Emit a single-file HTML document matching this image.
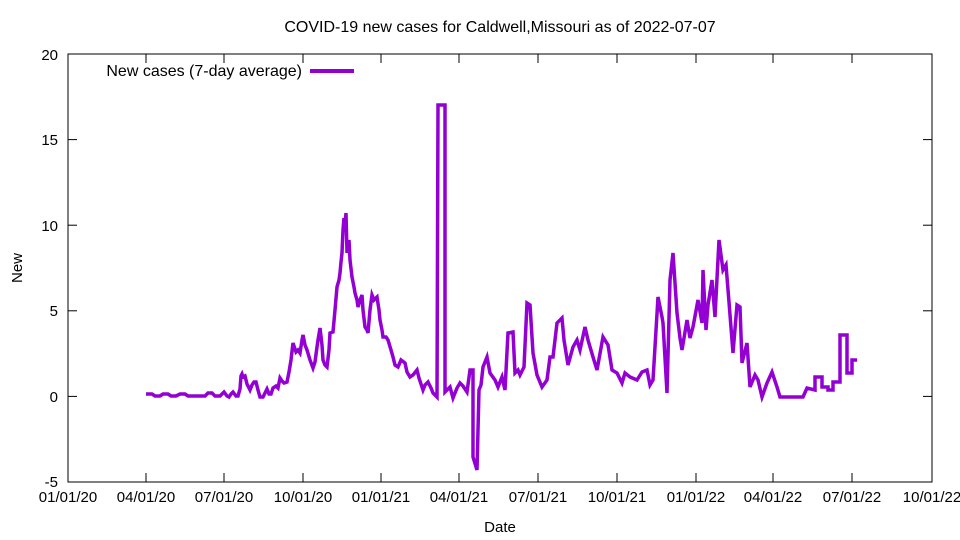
<!DOCTYPE html>
<html><head><meta charset="utf-8"><style>body{margin:0;background:#fff}svg{display:block}text{font-family:"Liberation Sans",sans-serif;font-size:16px;fill:#000}.t{font-size:15px}</style></head><body>
<svg width="960" height="540" xmlns="http://www.w3.org/2000/svg">
<rect x="68" y="54" width="864" height="428" fill="none" stroke="#000" stroke-width="1"/>
<g stroke="#000" stroke-width="1">
<line x1="68" y1="54" x2="77" y2="54"/><line x1="932" y1="54" x2="923" y2="54"/>
<line x1="68" y1="139.6" x2="77" y2="139.6"/><line x1="932" y1="139.6" x2="923" y2="139.6"/>
<line x1="68" y1="225.2" x2="77" y2="225.2"/><line x1="932" y1="225.2" x2="923" y2="225.2"/>
<line x1="68" y1="310.8" x2="77" y2="310.8"/><line x1="932" y1="310.8" x2="923" y2="310.8"/>
<line x1="68" y1="396.4" x2="77" y2="396.4"/><line x1="932" y1="396.4" x2="923" y2="396.4"/>
<line x1="146" y1="482" x2="146" y2="473"/><line x1="224" y1="482" x2="224" y2="473"/><line x1="303" y1="482" x2="303" y2="473"/><line x1="381" y1="482" x2="381" y2="473"/><line x1="459" y1="482" x2="459" y2="473"/><line x1="538" y1="482" x2="538" y2="473"/><line x1="617" y1="482" x2="617" y2="473"/><line x1="696" y1="482" x2="696" y2="473"/><line x1="773" y1="482" x2="773" y2="473"/><line x1="852" y1="482" x2="852" y2="473"/>
<line x1="146" y1="54" x2="146" y2="63"/><line x1="224" y1="54" x2="224" y2="63"/><line x1="303" y1="54" x2="303" y2="63"/><line x1="381" y1="54" x2="381" y2="63"/><line x1="459" y1="54" x2="459" y2="63"/><line x1="538" y1="54" x2="538" y2="63"/><line x1="617" y1="54" x2="617" y2="63"/><line x1="696" y1="54" x2="696" y2="63"/><line x1="773" y1="54" x2="773" y2="63"/><line x1="852" y1="54" x2="852" y2="63"/>
</g>
<g text-anchor="end">
<text class="t" x="58" y="60">20</text><text class="t" x="58" y="145">15</text><text class="t" x="58" y="231">10</text><text class="t" x="58" y="316">5</text><text class="t" x="58" y="402">0</text><text class="t" x="58" y="487">-5</text>
</g>
<g text-anchor="middle">
<text class="t" x="68" y="502">01/01/20</text><text class="t" x="146" y="502">04/01/20</text><text class="t" x="224" y="502">07/01/20</text><text class="t" x="303" y="502">10/01/20</text><text class="t" x="381" y="502">01/01/21</text><text class="t" x="459" y="502">04/01/21</text><text class="t" x="538" y="502">07/01/21</text><text class="t" x="617" y="502">10/01/21</text><text class="t" x="696" y="502">01/01/22</text><text class="t" x="773" y="502">04/01/22</text><text class="t" x="852" y="502">07/01/22</text><text class="t" x="932" y="502">10/01/22</text>
<text class="t" x="500" y="532">Date</text>
<text x="500" y="32">COVID-19 new cases for Caldwell,Missouri as of 2022-07-07</text>
</g>
<text class="t" x="22" y="268" text-anchor="middle" transform="rotate(-90 22 268)">New</text>
<text x="302" y="76" text-anchor="end">New cases (7-day average)</text>
<line x1="310" y1="71" x2="354" y2="71" stroke="#9400d3" stroke-width="4"/>
<polyline fill="none" stroke="#9400d3" stroke-width="3.5" stroke-linejoin="miter" points="146,394 152,394 155,396 160,396 163,394 168,394 171,396 176,396 180,394 185,394 188,396 195,396 200,396 205,396 208,393 212,393 215,396 220,396 222,394 224,392 227,396 229,397 231,394 233,392 236,396 238,396 240,389 241,376 242,374 243,377 245,376 247,384 249,388 250,390 252,385 254,382 256,382 258,390 260,397 263,397 265,393 267,389 269,394 271,394 273,388 276,386 278,388 280,378 282,381 284,383 287,382 289,372 291,360 293,343 296,352 298,350 300,353 302,340 303,335 305,345 307,350 310,360 313,368 315,362 317,347 318,340 320,328 322,345 323,360 325,365 327,367 329,350 330,333 333,332 335,310 337,287 339,280 340,273 341,262 342,253 343,230 344,218 345,225 346,213 347,253 348,246 349,240 350,260 352,277 354,287 355,293 357,300 358,307 360,300 362,295 363,310 365,327 367,330 368,333 370,310 372,295 374,300 377,297 379,310 380,320 382,330 383,337 386,337 388,340 391,350 393,357 395,365 398,367 401,360 405,363 407,372 410,377 413,375 417,370 419,378 423,390 425,385 428,382 431,388 433,393 437,397 438,105 443,105 445,105 445,392 450,387 453,398 457,388 460,383 463,386 467,392 470,370 473,370 473,457 477,470 479,390 481,385 483,367 485,362 487,357 490,373 495,380 498,387 502,377 505,390 508,333 513,332 515,373 518,370 520,375 524,367 527,303 530,305 533,353 537,375 542,387 547,380 550,357 553,357 557,323 562,318 564,340 568,365 573,347 577,340 580,350 585,327 588,340 593,357 597,370 603,337 608,345 612,370 617,373 622,383 625,373 630,377 637,380 642,372 647,370 650,385 653,380 655,347 658,297 662,317 663,323 667,393 670,280 673,253 677,313 680,338 682,350 687,320 690,338 693,327 698,300 702,323 703,270 706,330 708,305 712,280 715,317 719,240 723,270 726,265 729,302 733,353 737,305 740,307 742,363 747,343 750,387 755,375 758,380 762,397 767,383 772,372 777,387 780,397 803,397 807,388 815,390 815,377 822,377 822,387 828,387 828,390 833,390 833,382 840,382 840,335 847,335 847,373 852,373 852,360 857,360"/>
</svg>
</body></html>
